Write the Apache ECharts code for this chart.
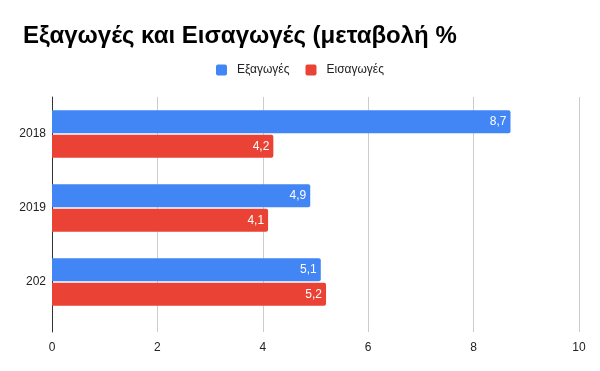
<!DOCTYPE html>
<html><head><meta charset="utf-8">
<script src="https://cdn.jsdelivr.net/npm/echarts@6/dist/echarts.min.js"></script>
<style>html,body{margin:0;padding:0;background:#fff}#c{width:600px;height:371px}</style>
</head><body><div id="c"></div>
<script>
var categories = ['2018', '2019', '202'];
var exportsVals = [8.7, 4.9, 5.1];
var importsVals = [4.2, 4.1, 5.2];
var seriesNames = ['Εξαγωγές', 'Εισαγωγές'];
var xTicks = [0, 2, 4, 6, 8, 10];

var FONT = 'Liberation Sans, Arial';
var chart = echarts.init(document.getElementById('c'), null, {renderer: 'canvas'});
var lbl = {show: true, position: 'insideRight', color: '#fff', fontSize: 12, fontFamily: FONT, distance: 4,
  formatter: function(p){ return String(p.value).replace('.', ','); }};
chart.setOption({
  animation: false,
  title: {text: 'Εξαγωγές και Εισαγωγές (μεταβολή %', left: 18, top: 19,
    textStyle: {fontSize: 24, fontWeight: 'bold', color: '#000', fontFamily: FONT}},
  legend: {data: seriesNames, top: 59, left: 'center', itemWidth: 11, itemHeight: 11, itemGap: 16,
    icon: 'path://M2,0H9A2,2 0 0 1 11,2V9A2,2 0 0 1 9,11H2A2,2 0 0 1 0,9V2A2,2 0 0 1 2,0Z',
    textStyle: {fontSize: 12, color: '#222', fontFamily: FONT, padding: [0, 0, 0, 5]}},
  grid: [
    {left: 52, right: 21, top: 97, height: 222, containLabel: false},
    {left: 52, right: 21, top: 97, bottom: 39, containLabel: false}
  ],
  xAxis: [
    {gridIndex: 0, type: 'value', min: xTicks[0], max: xTicks[xTicks.length - 1], interval: 2,
      axisLine: {show: false}, axisTick: {show: false}, splitLine: {show: false}, axisLabel: {show: false}},
    {gridIndex: 1, type: 'value', min: xTicks[0], max: xTicks[xTicks.length - 1], interval: 2,
      axisLine: {show: false}, axisTick: {show: false},
      splitLine: {lineStyle: {color: '#cccccc'}},
      axisLabel: {color: '#222', fontSize: 12, margin: 10, fontFamily: FONT}}
  ],
  yAxis: [
    {gridIndex: 0, type: 'category', data: categories, inverse: true,
      axisLine: {show: false}, axisTick: {show: false},
      axisLabel: {color: '#222', fontSize: 12, margin: 6, fontFamily: FONT}},
    {gridIndex: 1, type: 'value', min: 0, max: 1, axisLabel: {show: false}, splitLine: {show: false},
      axisTick: {show: false}, axisLine: {show: true, lineStyle: {color: '#333', width: 1}}}
  ],
  series: [
    {name: seriesNames[0], type: 'bar', xAxisIndex: 0, yAxisIndex: 0, data: exportsVals, barWidth: 23, barGap: '6%',
      itemStyle: {color: '#4285f4', borderRadius: [0, 2, 2, 0]}, label: lbl, z: 3},
    {name: seriesNames[1], type: 'bar', xAxisIndex: 0, yAxisIndex: 0, data: importsVals, barWidth: 23,
      itemStyle: {color: '#ea4335', borderRadius: [0, 2, 2, 0]}, label: lbl, z: 3}
  ]
});
</script></body></html>
